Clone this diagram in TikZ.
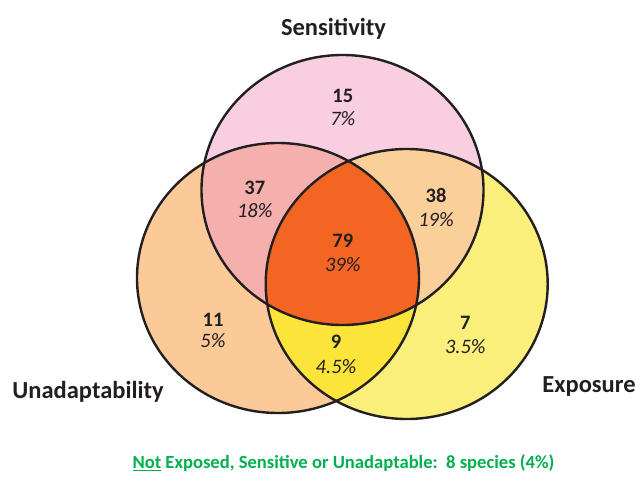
\documentclass[tikz,border=0pt]{standalone}
\usepackage{fontspec}
\setmainfont{Carlito}
\definecolor{cpink}{HTML}{F8CEE0}
\definecolor{cpeach}{HTML}{FBCA98}
\definecolor{cyel}{HTML}{F9EF7A}
\definecolor{csl}{HTML}{F5B0AE}
\definecolor{cse}{HTML}{FBCF9A}
\definecolor{cue}{HTML}{FDE43A}
\definecolor{call}{HTML}{F26522}
\definecolor{cline}{HTML}{231F20}
\definecolor{cgreen}{HTML}{00B050}
\definecolor{ctext}{HTML}{231F20}
\begin{document}
\begin{tikzpicture}[x=1pt,y=-1pt,
  setlabel/.style={font=\fontsize{24.5}{28}\selectfont\bfseries, text=ctext, inner sep=0pt},
  numlabel/.style={font=\fontsize{20.5}{24}\selectfont\bfseries, text=ctext, inner sep=0pt},
  pctlabel/.style={font=\fontsize{20.5}{24}\selectfont\itshape, text=ctext, inner sep=0pt},
  outline/.style={draw=cline, line width=2.4pt}]
\useasboundingbox (0,0) rectangle (636,495);
\def\Sell{(342.5,190) ellipse [x radius=141pt, y radius=135pt]}
\def\Uell{(278,278) ellipse [x radius=141pt, y radius=135pt]}
\def\Eell{(406.7,284) ellipse [x radius=141pt, y radius=135pt]}
% single fills
\fill[cpeach] \Uell;
\fill[cyel] \Eell;
\fill[cpink] \Sell;
% pair fills
\begin{scope}
  \clip \Sell;
  \fill[csl] \Uell;
  \fill[cse] \Eell;
\end{scope}
\begin{scope}
  \clip \Uell;
  \fill[cue] \Eell;
  \clip \Eell;
  \fill[call] \Sell;
\end{scope}
% outlines
\draw[outline] \Sell;
\draw[outline] \Uell;
\draw[outline] \Eell;
% set labels
\node[setlabel] (lsens) at (333.5,28.5) {Sensitivity};
\node[setlabel] (lunad) at (88,392) {Unadaptability};
\node[setlabel] (lexpo) at (589,386) {Exposure};
% region labels
\node[numlabel] (n15) at (342.8,96) {15};
\node[pctlabel] (p15) at (342.8,119) {7\%};
\node[numlabel] (n37) at (254.8,187.5) {37};
\node[pctlabel] (p37) at (254.8,211) {18\%};
\node[numlabel] (n38) at (436,195.5) {38};
\node[pctlabel] (p38) at (436,220) {19\%};
\node[numlabel] (n79) at (342.8,240.5) {79};
\node[pctlabel] (p79) at (342.8,265) {39\%};
\node[numlabel] (n11) at (213,319.5) {11};
\node[pctlabel] (p11) at (213,341) {5\%};
\node[numlabel] (n9) at (336,341.5) {9};
\node[pctlabel] (p9) at (336,366.5) {4.5\%};
\node[numlabel] (n7) at (465.3,322.5) {7};
\node[pctlabel] (p7) at (465.3,347) {3.5\%};
% bottom note
\node[font=\fontsize{18.6}{22}\selectfont\bfseries, text=cgreen, inner sep=0pt] (note) at (343.5,463.5)
  {\underline{Not} Exposed, Sensitive or Unadaptable:\ \ 8 species (4\%)};
\end{tikzpicture}
\end{document}
